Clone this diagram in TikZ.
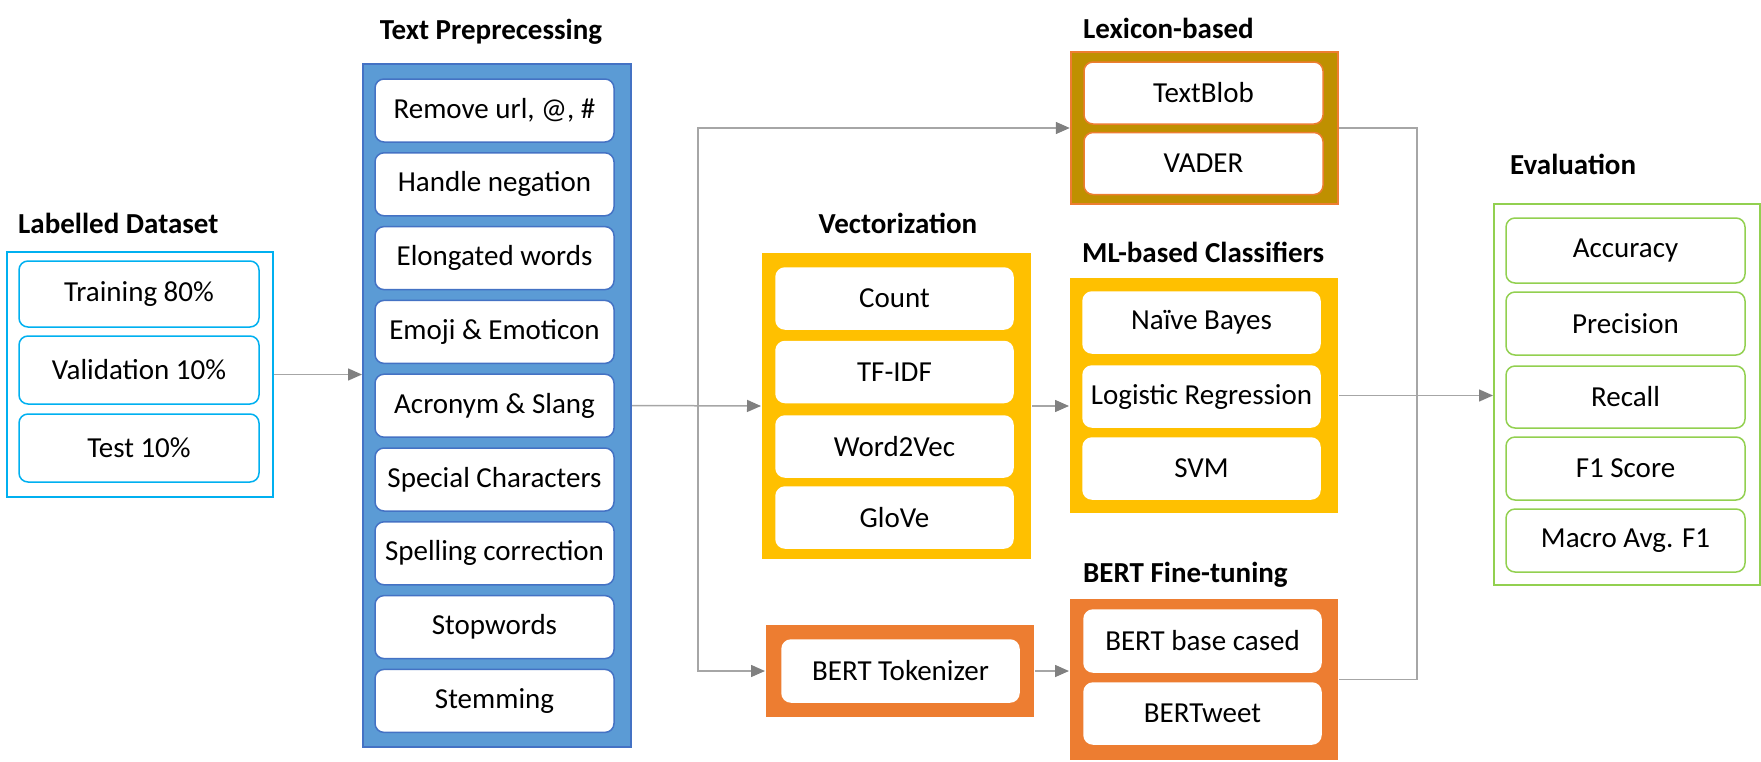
\documentclass[tikz,border=0pt]{standalone}
\usepackage{fontspec}
\setmainfont{Carlito}
\usetikzlibrary{arrows.meta}

\definecolor{prepblue}{HTML}{5B9BD5}
\definecolor{prepline}{HTML}{4472C4}
\definecolor{dataline}{HTML}{00B0F0}
\definecolor{vecgold}{HTML}{FFC000}
\definecolor{lexgold}{HTML}{BF9000}
\definecolor{bertorange}{HTML}{ED7D31}
\definecolor{evalgreen}{HTML}{92D050}
\definecolor{linkgray}{HTML}{A6A6A6}
\definecolor{tipgray}{HTML}{808080}

\def \itemw {239pt}
\def \itemh {63pt}

\tikzset{
  itembox/.style={draw, fill=white, rounded corners=9pt, line width=1.5pt, inner sep=0pt,
    minimum width=\itemw, minimum height=\itemh, font=\fontsize{29}{35}\selectfont},
  groupbox/.style={inner sep=0pt, line width=2pt},
  title/.style={inner sep=0pt, font=\fontsize{29}{35}\selectfont\bfseries},
  link/.style={draw=linkgray, line width=1.5pt},
  arrow/.style={link, -{Triangle[length=14pt, width=12pt, color=tipgray]}}
}

\begin{document}
\begin{tikzpicture}[x=1pt, y=-1pt]
\useasboundingbox (0,0) rectangle (1761,761);

% labelled dataset
\node[title, anchor=west] (datatitle) at (18,223) {Labelled Dataset};
\node[groupbox, draw=dataline, minimum width=266pt, minimum height=245pt] (data) at (140,374.5) {};
\node[itembox, draw=dataline, minimum width=240pt, minimum height=66pt] (train) at (139,294) {Training 80\%};
\node[itembox, draw=dataline, minimum width=240pt, minimum height=68pt] (valid) at (139,370) {Validation 10\%};
\node[itembox, draw=dataline, minimum width=240pt, minimum height=68pt] (test) at (139,448) {Test 10\%};

% text preprocessing
\node[title] (preptitle) at (491,32) {Text Preprecessing};
\node[groupbox, draw=prepline, fill=prepblue, minimum width=268pt, minimum height=683pt] (prep) at (497,405.5) {};
\node[itembox, draw=prepline] (url) at (494.5,110.5) {Remove url, @, \#};
\node[itembox, draw=prepline] (negation) at (494.5,184.3) {Handle negation};
\node[itembox, draw=prepline] (elongated) at (494.5,258.1) {Elongated words};
\node[itembox, draw=prepline] (emoji) at (494.5,331.9) {Emoji \& Emoticon};
\node[itembox, draw=prepline] (acronym) at (494.5,405.7) {Acronym \& Slang};
\node[itembox, draw=prepline] (special) at (494.5,479.5) {Special Characters};
\node[itembox, draw=prepline] (spelling) at (494.5,553.3) {Spelling correction};
\node[itembox, draw=prepline] (stopwords) at (494.5,627.1) {Stopwords};
\node[itembox, draw=prepline] (stemming) at (494.5,700.9) {Stemming};

% vectorization
\node[title] (vecttitle) at (898,223) {Vectorization};
\node[groupbox, fill=vecgold, minimum width=269pt, minimum height=306pt] (vect) at (896.5,406) {};
\node[itembox, draw=white, minimum width=237pt, minimum height=61pt] (count) at (894.5,298.5) {Count};
\node[itembox, draw=white, minimum width=237pt, minimum height=61pt] (tfidf) at (894.5,372) {TF-IDF};
\node[itembox, draw=white, minimum width=237pt, minimum height=61pt] (wordvec) at (894.5,446.5) {Word2Vec};
\node[itembox, draw=white, minimum width=237pt, minimum height=61pt] (glove) at (894.5,517.5) {GloVe};

% bert tokenizer
\node[groupbox, fill=bertorange, minimum width=268pt, minimum height=92pt] (tok) at (900,671) {};
\node[itembox, draw=white, minimum width=237pt, minimum height=62pt] (tokitem) at (900.5,671) {BERT Tokenizer};

% lexicon-based
\node[title, anchor=west] (lextitle) at (1083,28) {Lexicon-based};
\node[groupbox, draw=bertorange, fill=lexgold, line width=2.5pt, minimum width=267pt, minimum height=152pt] (lex) at (1204.5,128) {};
\node[itembox, draw=bertorange, minimum height=62pt] (textblob) at (1203.5,93) {TextBlob};
\node[itembox, draw=bertorange, minimum height=62pt] (vader) at (1203.5,163.5) {VADER};

% ml-based classifiers
\node[title, anchor=west] (mltitle) at (1082,252) {ML-based Classifiers};
\node[groupbox, fill=vecgold, minimum width=268pt, minimum height=235pt] (ml) at (1204,395.5) {};
\node[itembox, draw=white, minimum width=237pt, minimum height=61pt] (bayes) at (1201.5,322.5) {Naïve Bayes};
\node[itembox, draw=white, minimum width=237pt, minimum height=61pt] (logreg) at (1201.5,396.5) {Logistic Regression};
\node[itembox, draw=white, minimum width=237pt, minimum height=61pt] (svm) at (1201.5,468.5) {SVM};

% bert fine-tuning
\node[title, anchor=west] (berttitle) at (1083,575) {BERT Fine-tuning};
\node[groupbox, fill=bertorange, minimum width=268pt, minimum height=161pt] (bert) at (1204,679.5) {};
\node[itembox, draw=white, minimum width=237pt, minimum height=62pt] (bertbase) at (1202.5,641) {BERT base cased};
\node[itembox, draw=white, minimum width=237pt, minimum height=61pt] (bertweet) at (1202.5,713.5) {BERTweet};

% evaluation
\node[title, anchor=west] (evaltitle) at (1510,164) {Evaluation};
\node[groupbox, draw=evalgreen, fill=white, minimum width=266pt, minimum height=381pt] (eval) at (1627,394.5) {};
\node[itembox, draw=evalgreen, minimum height=65pt] (accuracy) at (1625.5,250.5) {Accuracy};
\node[itembox, draw=evalgreen] (precision) at (1625.5,323.5) {Precision};
\node[itembox, draw=evalgreen, minimum height=62pt] (recall) at (1625.5,397) {Recall};
\node[itembox, draw=evalgreen] (fscore) at (1625.5,468.5) {F1 Score};
\node[itembox, draw=evalgreen] (macro) at (1625.5,540.5) {Macro Avg. F1};

% connectors
\coordinate (split) at (698,405.5);
\coordinate (merge) at (1417,395.5);
\draw[arrow] (data.east) -- (data.east -| prep.west);
\draw[arrow] (prep.east) -- (vect.west);
\draw[arrow] (split) |- (lex.west);
\draw[arrow] (split) |- (tok.west);
\draw[arrow] (vect.east) -- (vect.east -| ml.west);
\draw[arrow] (tok.east) -- (tok.east -| bert.west);
\draw[link] (lex.east) -| (merge);
\draw[link] (bert.east) -| (merge);
\draw[link] (ml.east) -- (merge);
\draw[arrow] (merge) -- (merge -| eval.west);
\end{tikzpicture}
\end{document}
